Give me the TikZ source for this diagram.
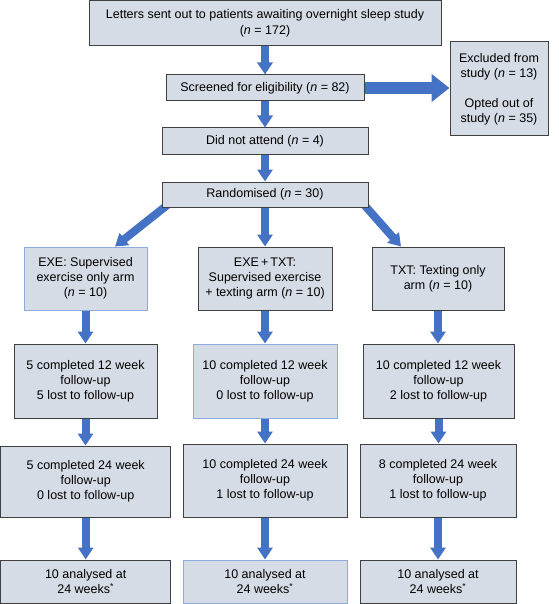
\documentclass[tikz,border=0pt]{standalone}
\usepackage{fontspec}
\setmainfont{Liberation Sans}
\usetikzlibrary{arrows.meta,backgrounds}
\definecolor{boxfill}{RGB}{214,220,229}
\definecolor{boxline}{RGB}{64,64,64}
\definecolor{lightline}{RGB}{143,170,220}
\definecolor{arrowblue}{RGB}{68,114,196}
\tikzset{
  flowbox/.style={draw=boxline, line width=1pt, fill=boxfill, align=center, inner sep=0pt, font=\fontsize{12.5}{15}\selectfont},
  bluebox/.style={flowbox, draw=lightline},
  flowarrow/.style={draw=arrowblue, line width=8pt, -{Triangle[width=15pt,length=12pt]}},
  bigarrow/.style={draw=arrowblue, line width=12pt, -{Triangle[width=27pt,length=18pt]}}
}

\begin{document}
\begin{tikzpicture}[x=1pt,y=-1pt]
\useasboundingbox (0,0) rectangle (558,604);
\node [flowbox, minimum width=352pt, minimum height=45pt] (letters) at (265,23.5) {Letters sent out to patients awaiting overnight sleep study\\[1.5pt] (\textit{n} = 172)};
\node [flowbox, minimum width=198pt, minimum height=26pt] (screened) at (265,88) {Screened for eligibility (\textit{n} = 82)};
\node [flowbox, minimum width=98pt, minimum height=94pt] (excluded) at (499,89) {Excluded from\\study (\textit{n} = 13)\\[15pt]Opted out of\\study (\textit{n} = 35)};
\node [flowbox, minimum width=206pt, minimum height=27pt] (notattend) at (265,141.5) {Did not attend (\textit{n} = 4)};
\node [flowbox, minimum width=206pt, minimum height=25pt] (random) at (265,194.5) {Randomised (\textit{n} = 30)};

\node [bluebox, minimum width=123pt, minimum height=63pt] (exe) at (85.5,278.5) {EXE: Supervised\\exercise only arm\\(\textit{n} = 10)};
\node [flowbox, minimum width=134pt, minimum height=63pt] (exetxt) at (265,278.5) {EXE\,+\,TXT:\\Supervised exercise\\+ texting arm (\textit{n} = 10)};
\node [flowbox, minimum width=132pt, minimum height=63pt] (txt) at (438,278.5) {TXT: Texting only\\arm (\textit{n} = 10)};

\node [flowbox, minimum width=143pt, minimum height=74pt] (exeA) at (85.5,381) {5 completed 12 week\\follow-up\\5 lost to follow-up};
\node [bluebox, minimum width=144pt, minimum height=74pt] (exetxtA) at (265,381) {10 completed 12 week\\follow-up\\0 lost to follow-up};
\node [flowbox, minimum width=151pt, minimum height=74pt] (txtA) at (438.5,381) {10 completed 12 week\\follow-up\\2 lost to follow-up};

\node [flowbox, minimum width=170pt, minimum height=71pt] (exeB) at (85.7,481.5) {5 completed 24 week\\follow-up\\0 lost to follow-up};
\node [flowbox, minimum width=164pt, minimum height=73pt] (exetxtB) at (265,480.5) {10 completed 24 week\\follow-up\\1 lost to follow-up};
\node [flowbox, minimum width=156pt, minimum height=73pt] (txtB) at (438,480.5) {8 completed 24 week\\follow-up\\1 lost to follow-up};

\node [flowbox, minimum width=170pt, minimum height=43pt] (exeC) at (85.7,581.5) {10 analysed at\\24 weeks\textsuperscript{*}};
\node [bluebox, minimum width=164pt, minimum height=43pt] (exetxtC) at (265,581.5) {10 analysed at\\24 weeks\textsuperscript{*}};
\node [flowbox, minimum width=156pt, minimum height=43pt] (txtC) at (438,581.5) {10 analysed at\\24 weeks\textsuperscript{*}};

\begin{scope}[on background layer]
\draw [flowarrow] (letters.south) -- (screened.north);
\draw [flowarrow] (screened.south) -- (notattend.north);
\draw [flowarrow] (notattend.south) -- (random.north);
\draw [bigarrow] (screened.east) -- (screened.east -| excluded.west);
\draw [flowarrow] ([xshift=9pt,yshift=5pt]random.south west) -- ([xshift=29.5pt]exe.north);
\draw [flowarrow] (random.south) -- (exetxt.north);
\draw [flowarrow] ([xshift=-6.4pt,yshift=5pt]random.south east) -- ([xshift=-37pt]txt.north);
\foreach \arm in {exe,exetxt,txt} {
  \draw [flowarrow] (\arm.south) -- (\arm.south |- \arm A.north);
  \draw [flowarrow] (\arm A.south) -- (\arm A.south |- \arm B.north);
  \draw [flowarrow] (\arm B.south) -- (\arm B.south |- \arm C.north);
}
\end{scope}
\end{tikzpicture}
\end{document}
